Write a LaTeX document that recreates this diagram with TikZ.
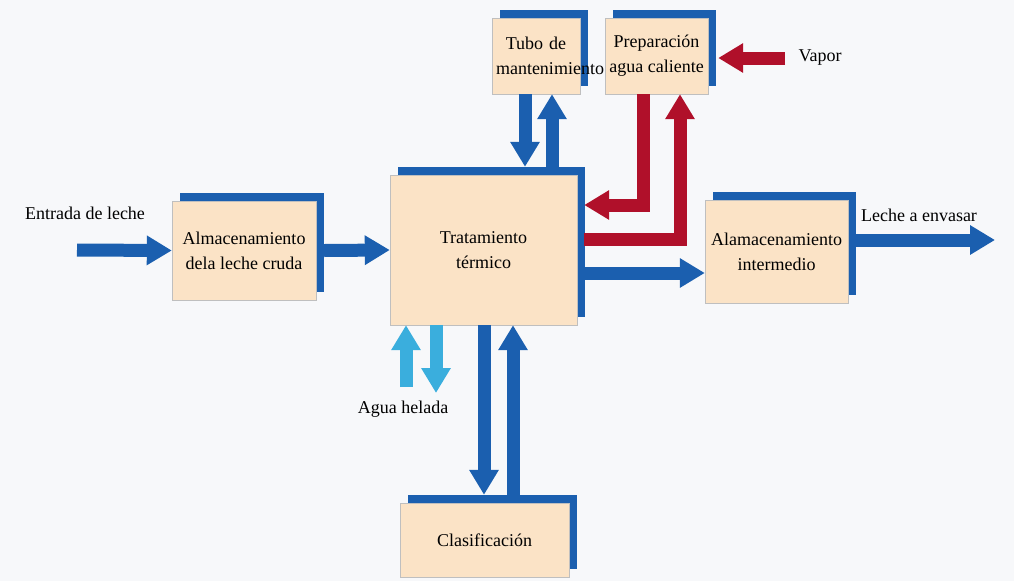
\documentclass[tikz,border=0pt]{standalone}
\usepackage{fontspec}
\setmainfont{Liberation Serif}
\usetikzlibrary{arrows.meta, shadows}
\definecolor{azul}{HTML}{1B5FAF}
\definecolor{rojo}{HTML}{B0102A}
\definecolor{celeste}{HTML}{3AAEDD}
\definecolor{melocoton}{HTML}{FBE3C6}
\definecolor{fondo}{HTML}{F7F8FA}
\tikzstyle{etapa} = [rectangle, 
draw=black!25, 
fill=melocoton,
align=center, 
font=\fontsize{18}{25}\selectfont,
drop shadow={shadow xshift=8pt, shadow yshift=8pt, fill=azul, opacity=1}]
\tikzstyle{rotulo} = [inner sep=0pt, 
font=\fontsize{18}{25}\selectfont]
\tikzstyle{flecha} = [line width=13pt, line join=miter, -{Triangle[length=25pt, width=28pt]}]
\tikzstyle{flechaazul} = [flecha, draw=azul]
\tikzstyle{flecharoja} = [flecha, draw=rojo]
\tikzstyle{flechaceleste} = [flecha, draw=celeste]
\begin{document}
\begin{tikzpicture}[x=1pt, y=-1pt]
\useasboundingbox (0,0) rectangle (1014,581);
\fill [fondo] (0,0) rectangle (1014,581);

\node (crudo) [etapa, minimum width=144pt, minimum height=99pt] at (244,250.5) {Almacenamiento\\ dela leche cruda};
\node (trat) [etapa, minimum width=187pt, minimum height=150pt] at (483.5,250) {Tratamiento\\ térmico};
\node (tubo) [etapa, minimum width=88pt, minimum height=76pt, text width=80pt] at (536,56) {Tubo de\\ mantenimiento};
\node (prep) [etapa, minimum width=103pt, minimum height=76pt] at (656.5,56) {Preparación\\ agua caliente};
\node (inter) [etapa, minimum width=143pt, minimum height=103pt] at (776.5,251.5) {Alamacenamiento\\ intermedio};
\node (clas) [etapa, minimum width=169pt, minimum height=74pt] at (484.5,540) {Clasificación};

\node (entradaTxt) [rotulo] at (85,213) {Entrada de leche};
\node (vaporTxt) [rotulo] at (820,58) {Vapor};
\node (salidaTxt) [rotulo] at (919,215) {Leche a envasar};
\node (aguaTxt) [rotulo] at (403,409) {Agua helada};

\coordinate (entrada) at (77,250);
\coordinate (salida) at (995,240);
\coordinate (vapor) at (785,58);
\coordinate (aguaEntra) at (406,387);
\coordinate (aguaSale) at (436,393);
\coordinate (yInter) at (0,273);
\coordinate (xBaja) at (525,0);
\coordinate (xSube) at (552,0);
\coordinate (xRojoBaja) at (643,205);
\coordinate (xRojoSube) at (680,239);
\coordinate (xClasBaja) at (484,0);
\coordinate (xClasSube) at (513,0);

\draw [flechaazul] (entrada) -- (crudo.west);
\draw [flechaazul] ([xshift=8pt]crudo.east) -- (trat.west);
\draw [flechaazul] ([xshift=7pt]trat.east |- yInter) -- (inter.west |- yInter);
\draw [flechaazul] ([xshift=8pt]inter.east |- salida) -- (salida);
\draw [flechaazul, shorten >=8pt] (tubo.south -| xBaja) -- (trat.north -| xBaja);
\draw [flechaazul, shorten <=7pt] (trat.north -| xSube) -- (tubo.south -| xSube);
\draw [flecharoja] (vapor) -- ([xshift=10pt]prep.east |- vapor);
\draw [flecharoja] (prep.south -| xRojoBaja) |- ([xshift=7pt]trat.east |- xRojoBaja);
\draw [flecharoja] ([xshift=7pt]trat.east |- xRojoSube) -| (prep.south -| xRojoSube);
\draw [flechaceleste] (aguaEntra) -- (trat.south -| aguaEntra);
\draw [flechaceleste] (trat.south -| aguaSale) -- (aguaSale);
\draw [flechaazul, shorten >=8pt] (trat.south -| xClasBaja) -- (clas.north -| xClasBaja);
\draw [flechaazul, shorten <=6pt] (clas.north -| xClasSube) -- (trat.south -| xClasSube);

\end{tikzpicture}
\end{document}
